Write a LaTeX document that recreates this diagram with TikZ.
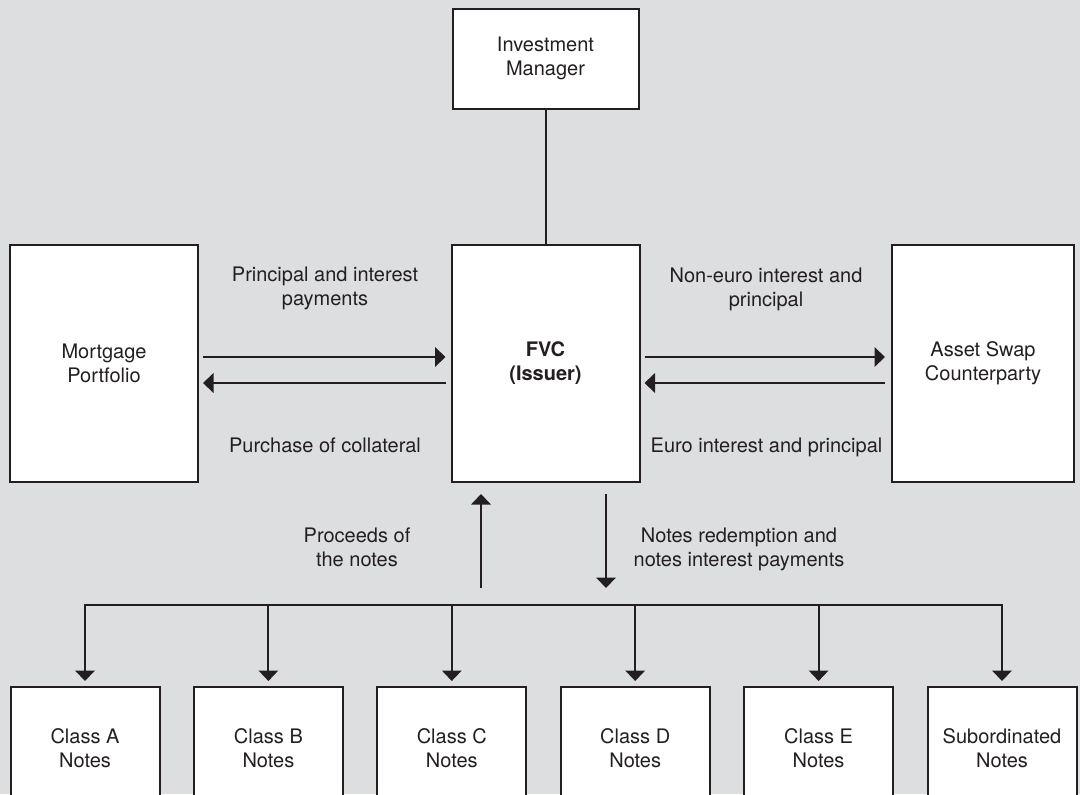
\documentclass[tikz,border=0pt]{standalone}
\usepackage{fontspec}
\setmainfont{TeX Gyre Heros}
\usepackage{tikz}
\usetikzlibrary{arrows.meta, positioning, calc}
\usepackage{xcolor}
\definecolor{bggray}{RGB}{221, 222, 224}
\definecolor{inkgray}{RGB}{35, 31, 32}
\tikzset{
    partybox/.style={draw=inkgray, fill=white, rectangle, line width=1pt, font=\fontsize{10}{12}\selectfont, align=center, text=inkgray, inner sep=0pt},
    sidebox/.style={partybox, minimum width=94pt, minimum height=118.5pt},
    classbox/.style={partybox, minimum width=74.5pt, minimum height=61pt},
    flowarrow/.style={-{Triangle[length=5.25pt, width=9.75pt]}, line width=1pt, draw=inkgray},
    linkline/.style={line width=1pt, draw=inkgray},
    flowlabel/.style={font=\fontsize{10}{12}\selectfont, align=center, text=inkgray, inner sep=0pt},
}

\begin{document}
\begin{tikzpicture}[x=0.5pt, y=-0.5pt]
                \useasboundingbox (0, 0) rectangle (1080, 794);
                \clip (0, 0) rectangle (1080, 794);
                \fill[bggray] (0, 0) rectangle (1080, 794);

                % Investment manager
                \node[partybox, minimum width=93pt, minimum height=50pt] (manager) at (545.5, 58.75) {Investment\\Manager};

                % Issuer and its two counterparties
                \node[sidebox] (fvc) at (545.5, 363) {\bfseries FVC\\\bfseries (Issuer)};
                \node[sidebox] (mortgage) at (104, 363) {Mortgage\\Portfolio};
                \node[sidebox, minimum width=91pt] (swap) at (983, 363) {Asset Swap\\Counterparty};

                % Note classes
                \node[classbox] (classa) at (85, 748) {Class A\\Notes};
                \node[classbox] (classb) at (268.4, 748) {Class B\\Notes};
                \node[classbox] (classc) at (451.8, 748) {Class C\\Notes};
                \node[classbox] (classd) at (635.2, 748) {Class D\\Notes};
                \node[classbox] (classe) at (818.6, 748) {Class E\\Notes};
                \node[classbox] (classsub) at (1002, 748) {Subordinated\\Notes};

                % Rows and feet of the arrows
                \coordinate (outrow) at (0, 357);
                \coordinate (backrow) at (0, 383);
                \coordinate (upfoot) at (481, 588);
                \coordinate (downfoot) at (606, 588);
                \coordinate (bus) at (545, 605);

                % Labels
                \node[flowlabel] (paylabel) at (325, 288.5) {Principal and interest\\payments};
                \node[flowlabel] (buylabel) at (325, 445) {Purchase of collateral};
                \node[flowlabel] (nonlabel) at (766, 289.5) {Non-euro interest and\\principal};
                \node[flowlabel] (eurolabel) at (766.5, 447) {Euro interest and principal};
                \node[flowlabel] (proceedslabel) at (357, 547) {Proceeds of\\the notes};
                \node[flowlabel] (redeemlabel) at (739, 549.5) {Notes redemption and\\notes interest payments};

                % Arrows
                \draw[linkline] (manager.south) -- (fvc.north);
                \draw[flowarrow, shorten <=2pt, shorten >=2.5pt] (mortgage.east |- outrow) -- (fvc.west |- outrow);
                \draw[flowarrow, shorten <=2.5pt, shorten >=2pt] (fvc.west |- backrow) -- (mortgage.east |- backrow);
                \draw[flowarrow, shorten <=2pt, shorten >=3pt] (fvc.east |- outrow) -- (swap.west |- outrow);
                \draw[flowarrow, shorten <=3pt, shorten >=2pt] (swap.west |- backrow) -- (fvc.east |- backrow);
                \draw[flowarrow, shorten >=5.75pt] (upfoot) -- (upfoot |- fvc.south);
                \draw[flowarrow, shorten <=5.5pt] (downfoot |- fvc.south) -- (downfoot);

                % Distribution to the note classes
                \draw[flowarrow, shorten >=2.5pt] (bus) -| (classa.north);
                \draw[flowarrow, shorten >=2.5pt] (bus) -| (classsub.north);
                \foreach \cls in {classb, classc, classd, classe}
                    \draw[flowarrow, shorten >=2.5pt] (\cls.north |- bus) -- (\cls.north);
            \end{tikzpicture}
\end{document}
